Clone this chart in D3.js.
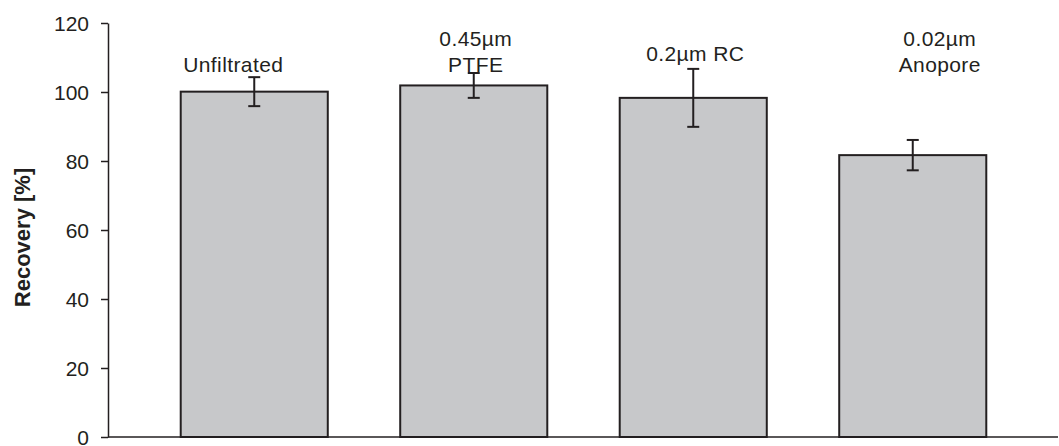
<!DOCTYPE html>
<html>
<head>
<meta charset="utf-8">
<script src="https://cdn.jsdelivr.net/npm/d3@7"></script>
<style>
  html, body { margin: 0; padding: 0; background: #fff; }
  svg { display: block; }
  text { font-family: "Liberation Sans", Arial, Helvetica, sans-serif; fill: #231f20; }
</style>
</head>
<body>
<svg id="chart" width="1059" height="446"></svg>
<script>
// Recovery per filtration treatment, mean ± deviation (%)
const categories = ["Unfiltrated", "0.45µm PTFE", "0.2µm RC", "0.02µm Anopore"];
const labelLines = [["Unfiltrated"], ["0.45µm", "PTFE"], ["0.2µm RC"], ["0.02µm", "Anopore"]];
const recovery = [100.1, 101.9, 98.3, 81.7];
const deviation = [4.2, 3.6, 8.4, 4.4];
const yTicks = [0, 20, 40, 60, 80, 100, 120];

// Layout
const W = 1059, H = 446;
const axisX = 108, yTop = 23, yBottom = 437;
const labelShift = [-21, 2, 2, 27];       // horizontal nudges of category labels
const labelBaseline = [72, 72, 61, 72];   // baseline of each label's last line
const lineGap = 26;
const ink = "#231f20";

const svg = d3.select("#chart");

const y = d3.scaleLinear().domain([0, 120]).range([yBottom, yTop]);
const x = d3.scaleBand()
  .domain(categories)
  .range([144.5, 1022.5])
  .paddingInner(0.33)
  .paddingOuter(0.165);

// Bars
svg.append("g").selectAll("rect")
  .data(categories)
  .join("rect")
  .attr("x", d => x(d))
  .attr("width", x.bandwidth())
  .attr("y", (d, i) => y(recovery[i]))
  .attr("height", (d, i) => y(0) - y(recovery[i]))
  .attr("fill", "#c7c8ca")
  .attr("stroke", ink)
  .attr("stroke-width", 2);

// Error bars
const cap = 6;
const eg = svg.append("g").attr("stroke", ink).attr("stroke-width", 2).attr("fill", "none");
categories.forEach((c, i) => {
  const cx = x(c) + x.bandwidth() / 2;
  const hi = y(recovery[i] + deviation[i]);
  const lo = y(recovery[i] - deviation[i]);
  eg.append("line").attr("x1", cx).attr("x2", cx).attr("y1", hi).attr("y2", lo);
  eg.append("line").attr("x1", cx - cap).attr("x2", cx + cap).attr("y1", hi).attr("y2", hi);
  eg.append("line").attr("x1", cx - cap).attr("x2", cx + cap).attr("y1", lo).attr("y2", lo);
});

// X axis line
svg.append("line")
  .attr("x1", axisX).attr("x2", W - 1)
  .attr("y1", y(0)).attr("y2", y(0))
  .attr("stroke", ink).attr("stroke-width", 1.5);

// Y axis
const yAxis = d3.axisLeft(y).tickValues(yTicks).tickSize(7).tickPadding(12).tickSizeOuter(0);
const ya = svg.append("g").attr("transform", `translate(${axisX},0)`).call(yAxis);
ya.select(".domain").attr("stroke", ink).attr("stroke-width", 1.5);
ya.selectAll(".tick line").attr("stroke", ink).attr("stroke-width", 1.5);
ya.selectAll(".tick text")
  .style("font-size", "21px")
  .style("font-family", "'Liberation Sans', Arial, sans-serif")
  .attr("fill", ink)
  .attr("dy", "0.36em");

// Y axis title
svg.append("text")
  .attr("transform", `translate(30,${(168 + 307) / 2}) rotate(-90)`)
  .attr("text-anchor", "middle")
  .style("font-size", "22px")
  .style("font-weight", "bold")
  .text("Recovery [%]");

// Category labels above the bars
categories.forEach((c, i) => {
  const cx = x(c) + x.bandwidth() / 2 + labelShift[i];
  const lines = labelLines[i];
  const t = svg.append("text")
    .attr("text-anchor", "middle")
    .style("font-size", "21px")
    .style("letter-spacing", "0.4px");
  lines.forEach((ln, k) => {
    t.append("tspan")
      .attr("x", cx)
      .attr("y", labelBaseline[i] - (lines.length - 1 - k) * lineGap)
      .text(ln);
  });
});
</script>
</body>
</html>
